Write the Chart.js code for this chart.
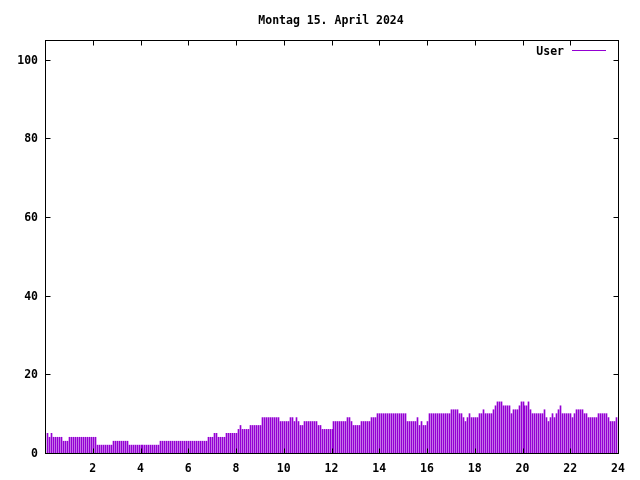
<!DOCTYPE html>
<html><head><meta charset="utf-8">
<script src="https://cdn.jsdelivr.net/npm/chart.js@4"></script>
<style>html,body{margin:0;padding:0;background:#fff}#c{display:block}</style>
</head><body>
<canvas id="c" width="640" height="480"></canvas>
<script>
const chartTitle = 'Montag 15. April 2024';
const seriesName = 'User';
const seriesColor = '#9400d3';
// users per 5-minute slot, starting 00:05
const usersPart1 = [5,4,5,4,4,4,4,4,3,3,3,
  4,4,4,4,4,4,4,4,4,4,4,4,4,4,
  2,2,2,2,2,2,2,2,
  3,3,3,3,3,3,3,3,
  2,2,2,2,2,2,2,2];
const usersPart2 = [2,2,2,2,2,2,2,2,
  3,3,3,3,3,3,3,3,3,3,3,3,3,3,3,3,3,3,3,3,3,3,3,3,
  4,4,4,5,5,4,4,4,4,
  5,5,5,5,5,5,6,7];
const usersPart3 = [6,6,6,6,7,7,7,7,7,7,
  9,9,9,9,9,9,9,9,9,
  8,8,8,8,8,9,9,8,9,8,7,7,
  8,8,8,8,8,8,8,7,7,
  6,6,6,6,6,6,8,8,8];
const usersPart4 = [8,8,8,8,9,9,8,7,7,7,7,
  8,8,8,8,8,9,9,9,
  10,10,10,10,10,10,10,10,10,10,10,10,10,10,10,
  8,8,8,8,8,9,7,8,7,7,8,
  10,10,10,10,10,10,10];
const usersPart5 = [10,10,10,10,11,11,11,11,10,10,9,8,9,10,
  9,9,9,9,10,10,11,10,10,10,10,11,12,
  13,13,13,12,12,12,12,10,11,11,11,12,13,13,12,12,13,11,
  10,10,10,10,10];
const usersPart6 = [10,11,9,8,9,10,9,10,11,12,
  10,10,10,10,10,9,10,11,11,11,11,10,10,
  9,9,9,9,9,10,10,10,10,10,9,8,8,8,9];
const xTicks = [2,4,6,8,10,12,14,16,18,20,22,24];
const yTicks = [0,20,40,60,80,100];
const slotMinutes = 5;

const users = [].concat(usersPart1, usersPart2, usersPart3, usersPart4, usersPart5, usersPart6);
const points = users.map((v, i) => ({x: (i + 1) * slotMinutes / 60, y: v}));

const FONT = '"DejaVu Sans Mono", "Liberation Mono", monospace';
const FSIZE = 11.5;

const gnuplotPlugin = {
  id: 'gnuplotLook',
  beforeDatasetsDraw(chart) {
    const meta = chart.getDatasetMeta(0);
    meta.data.forEach(el => { el.x = Math.round(el.x) + 0.5; });
  },
  afterDraw(chart) {
    const ctx = chart.ctx, a = chart.chartArea;
    const xs = chart.scales.x, ys = chart.scales.y;
    const L = Math.round(a.left) + 0.5, R = Math.round(a.right) + 0.5;
    const T = Math.round(a.top) + 0.5, B = Math.round(a.bottom) + 0.5;
    ctx.save();
    ctx.strokeStyle = '#000';
    ctx.lineWidth = 1;
    const tl = 5;
    ctx.beginPath();
    xTicks.forEach(t => {
      const px = Math.round(xs.getPixelForValue(t)) + 0.5;
      ctx.moveTo(px, B); ctx.lineTo(px, B - tl);
      ctx.moveTo(px, T); ctx.lineTo(px, T + tl);
    });
    yTicks.forEach(t => {
      const py = Math.round(ys.getPixelForValue(t)) + 0.5;
      ctx.moveTo(L, py); ctx.lineTo(L + tl, py);
      ctx.moveTo(R, py); ctx.lineTo(R - tl, py);
    });
    ctx.stroke();
    ctx.strokeRect(L, T, R - L, B - T);
    // title
    ctx.fillStyle = '#000';
    ctx.font = 'bold ' + FSIZE + 'px ' + FONT;
    ctx.textAlign = 'center';
    ctx.textBaseline = 'middle';
    ctx.fillText(chartTitle, 331, 21);
    // legend
    ctx.textAlign = 'right';
    ctx.fillText(seriesName, 564, 52);
    ctx.strokeStyle = seriesColor;
    ctx.beginPath();
    ctx.moveTo(572, 50.5); ctx.lineTo(606, 50.5);
    ctx.stroke();
    ctx.restore();
  }
};

new Chart(document.getElementById('c'), {
  type: 'bar',
  data: {
    datasets: [{
      label: seriesName,
      data: points,
      backgroundColor: seriesColor,
      borderWidth: 0,
      barThickness: 1
    }]
  },
  options: {
    responsive: false,
    animation: false,
    events: [],
    layout: {padding: {top: 40, right: 22, left: 0, bottom: 0}},
    plugins: {legend: {display: false}, title: {display: false}, tooltip: {enabled: false}},
    scales: {
      x: {
        type: 'linear', min: 0, max: 24, offset: false,
        grid: {display: false, drawTicks: false},
        border: {display: false},
        afterFit(s) { s.height = 27; },
        ticks: {
          stepSize: 2, autoSkip: false, maxRotation: 0, padding: 9,
          color: '#000', font: {family: FONT, size: FSIZE, weight: 'bold'},
          callback: v => xTicks.includes(v) ? String(v) : ''
        }
      },
      y: {
        min: 0, max: 105,
        grid: {display: false, drawTicks: false},
        border: {display: false},
        afterFit(s) { s.width = 45; },
        ticks: {
          stepSize: 20, padding: 7,
          color: '#000', font: {family: FONT, size: FSIZE, weight: 'bold'},
          callback: v => yTicks.includes(v) ? String(v) : '',
          labelOffset: 1
        }
      }
    }
  },
  plugins: [gnuplotPlugin]
});
</script>
</body></html>
